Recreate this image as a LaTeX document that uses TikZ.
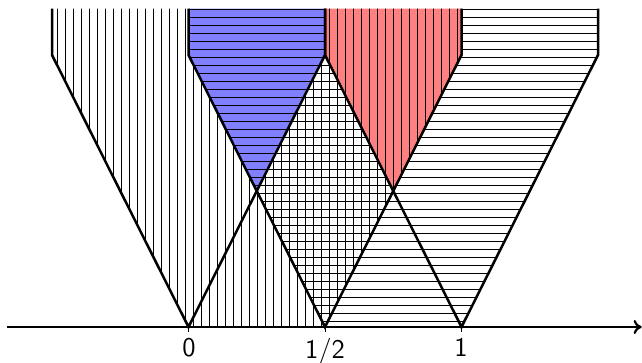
\documentclass[tikz,border=0pt]{standalone}
\usepackage{fontspec}
\usetikzlibrary{arrows.meta}
\begin{document}
\begin{tikzpicture}[x=0.5pt,y=0.5pt,
  outline/.style={line width=1.25pt,line join=miter},
  hatch/.style={line width=0.6pt},
  axisline/.style={line width=1.1pt,-{To[length=4pt,width=7pt]}},
  ticklabel/.style={font=\sffamily\fontsize{13.5}{16}\selectfont,anchor=base,inner sep=0pt}]
\useasboundingbox (0,0) rectangle (642,363);
% key points
\coordinate (A0) at (188.5,36);
\coordinate (Ah) at (325,36);
\coordinate (A1) at (461.5,36);
\coordinate (k0) at (52,308);
\coordinate (k1) at (188.5,308);
\coordinate (k2) at (325,308);
\coordinate (k3) at (461.5,308);
\coordinate (k4) at (598,308);
\coordinate (t0) at (52,354.4);
\coordinate (t1) at (188.5,354.4);
\coordinate (t2) at (325,354.4);
\coordinate (t3) at (461.5,354.4);
\coordinate (t4) at (598,354.4);
\coordinate (xL) at (256.75,172);
\coordinate (xR) at (393.25,172);
% coloured triangles
\fill[blue!50] (k1)--(t1)--(t2)--(k2)--(xL)--cycle;
\fill[red!50] (k2)--(t2)--(t3)--(k3)--(xR)--cycle;
% vertical hatching
\begin{scope}
\clip (A0)--(k0)--(t0)--(t1)--(k1)--(xL)--(k2)--(t2)--(t3)--(k3)--(Ah)--cycle;
\foreach \k in {0,...,51} {
  \draw[hatch] (57.7+8*\k,20) -- (57.7+8*\k,360);
}
\end{scope}
% horizontal hatching
\begin{scope}
\clip (Ah)--(k1)--(t1)--(t2)--(k2)--(xR)--(k3)--(t3)--(t4)--(k4)--(A1)--cycle;
\foreach \k in {0,...,41} {
  \draw[hatch] (150,353.7-8*\k) -- (620,353.7-8*\k);
}
\end{scope}
% outlines of the three cones
\draw[outline] (t0)--(k0)--(A0)--(k2)--(t2);
\draw[outline] (t1)--(k1)--(Ah)--(k3)--(t3);
\draw[outline] (t2)--(k2)--(A1)--(k4)--(t4);
% axis
\coordinate (axL) at (7,36);
\coordinate (axR) at (641.7,36);
\draw[axisline] (axL) -- (axR);
\foreach \p in {A0,Ah,A1} {
  \draw[line width=0.5pt] (\p) -- ++(0,-5);
}
\node[ticklabel] (l0) at (189,6) {0};
\node[ticklabel] (lh) at (325,4) {1/2};
\node[ticklabel] (l1) at (461,6) {1};
\end{tikzpicture}
\end{document}
